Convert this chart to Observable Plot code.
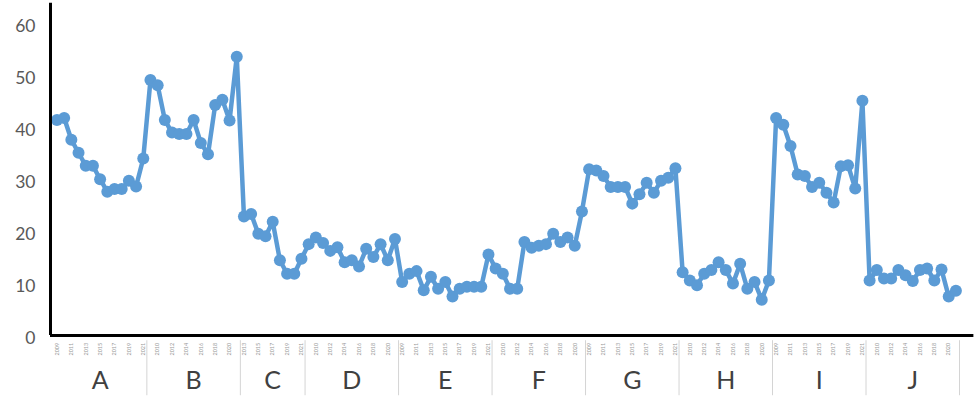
<!DOCTYPE html>
<html>
<head>
<meta charset="utf-8">
<script src="https://cdn.jsdelivr.net/npm/d3@7"></script>
<script src="https://cdn.jsdelivr.net/npm/@observablehq/plot@0.6"></script>
<style>
  html, body { margin: 0; padding: 0; background: #ffffff; }
  #chart svg { display: block; }
</style>
</head>
<body>
<div id="chart"></div>
<script>
// Categories: groups and their years
const groups = ["A", "B", "C", "D", "E", "F", "G", "H", "I", "J"];
const yearsFull = [2009, 2010, 2011, 2012, 2013, 2014, 2015, 2016, 2017, 2018, 2019, 2020, 2021];
const yearsC = [2013, 2014, 2015, 2016, 2017, 2018, 2019, 2020, 2021];

// Series values per group
const valuesA = [41.5, 41.9, 37.7, 35.2, 32.7, 32.7, 30.1, 27.7, 28.2, 28.2, 29.8, 28.7, 34.1];
const valuesB = [49.2, 48.2, 41.5, 39.1, 38.8, 38.8, 41.5, 37.1, 34.9, 44.4, 45.4, 41.4, 53.7];
const valuesC = [22.9, 23.4, 19.6, 19.1, 21.9, 14.5, 11.9, 11.9, 14.8];
const valuesD = [17.6, 18.9, 17.8, 16.3, 17.0, 14.1, 14.5, 13.3, 16.7, 15.1, 17.6, 14.5, 18.6];
const valuesE = [10.3, 11.9, 12.4, 8.7, 11.3, 9.0, 10.3, 7.5, 9.0, 9.4, 9.4, 9.4, 15.6];
const valuesF = [12.9, 11.9, 9.0, 9.0, 18.0, 16.9, 17.3, 17.6, 19.6, 18.0, 18.9, 17.3, 23.9];
const valuesG = [32.0, 31.8, 30.7, 28.6, 28.6, 28.6, 25.4, 27.2, 29.4, 27.5, 29.8, 30.4, 32.2];
const valuesH = [12.2, 10.6, 9.7, 11.9, 12.6, 14.1, 12.6, 10.0, 13.8, 9.0, 10.3, 6.9, 10.6];
const valuesI = [41.9, 40.6, 36.5, 31.0, 30.7, 28.6, 29.4, 27.5, 25.6, 32.6, 32.8, 28.3, 45.2];
const valuesJ = [10.6, 12.6, 11.0, 11.0, 12.6, 11.6, 10.5, 12.6, 12.9, 10.6, 12.7, 7.5, 8.6];

const yTicks = [0, 10, 20, 30, 40, 50, 60];

const groupValues = [valuesA, valuesB, valuesC, valuesD, valuesE, valuesF, valuesG, valuesH, valuesI, valuesJ];
const groupYears = groups.map(g => g === "C" ? yearsC : yearsFull);

// Build table
const data = [];
const groupInfo = [];
let idx = 0;
groups.forEach((g, gi) => {
  const start = idx;
  groupValues[gi].forEach((v, k) => {
    data.push({i: idx, x: idx + 0.5, group: g, year: groupYears[gi][k], value: v});
    idx++;
  });
  groupInfo.push({group: g, start, end: idx, center: (start + idx) / 2});
});
const total = idx;

const blue = "#5b9bd5";

const chart = Plot.plot({
  width: 974,
  height: 403,
  marginLeft: 50,
  marginRight: 15,
  marginTop: 23.5,
  marginBottom: 68,
  style: {fontFamily: "Lato, 'Open Sans', sans-serif", background: "#ffffff", overflow: "visible"},
  x: {domain: [-0.4, total], axis: null},
  y: {domain: [0, 60], axis: null, label: null},
  marks: [
    Plot.axisY({ticks: yTicks, tickSize: 0, tickPadding: 15, fontSize: 17.5, fill: "#595959", dy: 2.5, label: null, tickFormat: d => String(d)}),
    // group separators in the category area
    Plot.ruleX(groupInfo, {x: d => d.end, y1: -1, y2: -11.6, stroke: "#d4d4d4", strokeWidth: 1}),
    // year labels (every other category)
    Plot.text(data.filter(d => d.i % 2 === 0), {
      x: "x", y: -1.4, text: d => String(d.year), rotate: -90, textAnchor: "end",
      fontSize: 5.5, fill: "#9a9a9a"
    }),
    // group letters
    Plot.text(groupInfo, {x: "center", y: -8.7, text: "group", fontSize: 25, fill: "#404040"}),
    // series
    Plot.line(data, {x: "x", y: "value", stroke: blue, strokeWidth: 4.5, strokeLinejoin: "round"}),
    Plot.dot(data, {x: "x", y: "value", r: 6, fill: blue, stroke: "none"}),
    // axis lines
    Plot.ruleX([-0.4], {y1: 0, y2: 64, stroke: "#000000", strokeWidth: 3}),
    Plot.ruleY([0], {x1: -0.4, x2: total + 2, stroke: "#000000", strokeWidth: 3})
  ]
});

document.getElementById("chart").appendChild(chart);
</script>
</body>
</html>
